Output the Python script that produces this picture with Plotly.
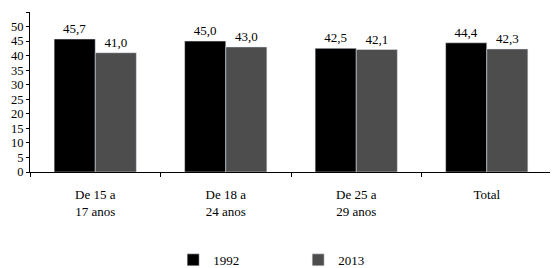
import plotly.graph_objects as go

categories = ["De 15 a<br>17 anos", "De 18 a<br>24 anos", "De 25 a<br>29 anos", "Total"]
v1992 = [45.7, 45.0, 42.5, 44.4]
v2013 = [41.0, 43.0, 42.1, 42.3]
tickvals = list(range(0, 60, 5))

def fmt(v):
    return f"{v:.1f}".replace(".", ",")

font = dict(family="Liberation Serif", size=13, color="#000")
tfont = dict(family="Liberation Serif", size=12.5, color="#000")

fig = go.Figure()
fig.add_bar(name="1992", x=categories, y=v1992, marker_color="#000000",
            text=[fmt(v) for v in v1992], textposition="outside", cliponaxis=False,
            textfont=font)
fig.add_bar(name="2013", x=categories, y=v2013, marker_color="#4d4d4d",
            text=[fmt(v) for v in v2013], textposition="outside", cliponaxis=False,
            textfont=font)

fig.update_layout(
    width=558, height=268,
    margin=dict(l=22, r=14, t=4, b=104),
    paper_bgcolor="white", plot_bgcolor="white",
    font=font,
    barmode="group", bargap=0.37, bargroupgap=0,
    showlegend=True,
    legend=dict(orientation="h", x=0.296, xanchor="left", xref="container",
                y=0.06, yanchor="middle", yref="container",
                font=font, itemwidth=30, entrywidth=80, entrywidthmode="pixels",
                traceorder="normal"),
)
fig.update_xaxes(showline=True, linecolor="#000", linewidth=1, tickson="boundaries",
                 ticks="outside", ticklen=4, tickcolor="#000", showgrid=False,
                 tickfont=font, automargin=False, ticklabelstandoff=10)
fig.update_yaxes(range=[0, 55], tickvals=tickvals, showline=True, linecolor="#000",
                 linewidth=1, ticks="outside", ticklen=3, tickcolor="#000",
                 showgrid=False, zeroline=False, tickfont=tfont, automargin=False,
                 ticklabelstandoff=0)

fig.write_html("out.html")
